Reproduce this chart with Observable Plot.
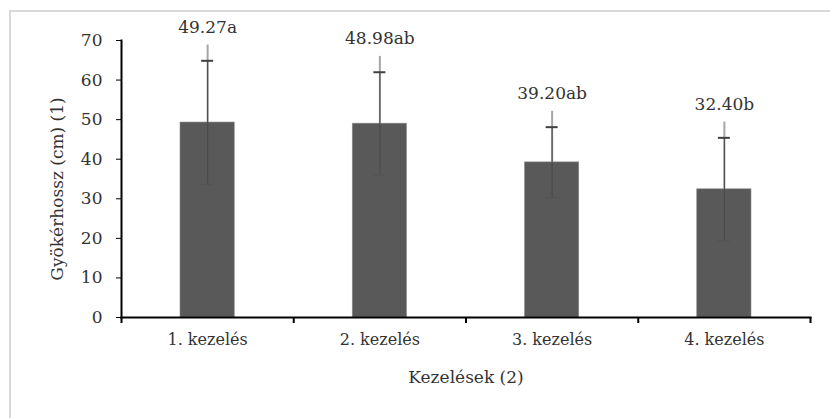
<!DOCTYPE html>
<html>
<head>
<meta charset="utf-8">
<script src="https://cdn.jsdelivr.net/npm/d3@7"></script>
<script src="https://cdn.jsdelivr.net/npm/@observablehq/plot@0.6"></script>
<style>
  html, body { margin: 0; padding: 0; background: #fff; }
  #wrap { position: relative; width: 830px; height: 418px; overflow: hidden; }
  #border { position: absolute; left: 9px; top: 10px; width: 900px; height: 500px;
            border-left: 2px solid #d9d9d9; border-top: 2px solid #d9d9d9; pointer-events: none; }
  svg { display: block; }
</style>
</head>
<body>
<div id="wrap"><div id="border"></div></div>
<script>
const categories = ["1. kezelés", "2. kezelés", "3. kezelés", "4. kezelés"];
const means = [49.27, 48.98, 39.20, 32.40];
const sds = [15.6, 13.0, 8.9, 13.0];
const letters = ["a", "ab", "ab", "b"];
const yTicks = [0, 10, 20, 30, 40, 50, 60, 70];
const yTitle = "Gyökérhossz (cm) (1)";
const xTitle = "Kezelések (2)";

const data = categories.map((c, i) => ({
  i, cat: c, mean: means[i], lo: means[i] - sds[i], hi: means[i] + sds[i],
  label: means[i].toFixed(2) + letters[i],
  labelY: means[i] + sds[i] + 8.5
}));

const font = "DejaVu Serif";
const fs = 16;
const txt = "#333";

const chart = Plot.plot({
  width: 830,
  height: 418,
  marginLeft: 121,
  marginRight: 20,
  marginTop: 40,
  marginBottom: 101,
  style: { fontFamily: font, fontSize: fs + "px", color: txt, background: "transparent" },
  x: { domain: [0, categories.length] },
  y: { domain: [0, 70] },
  marks: [
    Plot.rectY(data, { x1: d => d.i, x2: d => d.i + 1, y1: 0, y2: "mean", fill: "#595959", stroke: "#8c8c8c", strokeWidth: 0.6, insetLeft: 59, insetRight: 59 }),
    // leader lines from labels to bar tops
    Plot.ruleX(data, { x: d => d.i + 0.5, y1: "mean", y2: d => d.labelY - 4.5, stroke: "#a6a6a6", strokeWidth: 2 }),
    // error bars
    Plot.ruleX(data, { x: d => d.i + 0.5, y1: "lo", y2: "hi", stroke: "#4a4a4a", strokeWidth: 1.1 }),
    Plot.ruleY(data, { y: "hi", x1: d => d.i + 0.5, x2: d => d.i + 0.5, insetLeft: -6, insetRight: -6, stroke: "#404040", strokeWidth: 2 }),
    Plot.ruleY(data, { y: "lo", x1: d => d.i + 0.5, x2: d => d.i + 0.5, insetLeft: -6, insetRight: -6, stroke: "#505050", strokeWidth: 1.2, strokeOpacity: 0.5 }),
    // value labels
    Plot.text(data, { x: d => d.i + 0.5, y: "labelY", text: "label", fill: txt, fontSize: fs + 1, textAnchor: "middle", lineAnchor: "middle" }),
    // axes
    Plot.axisY({ ticks: yTicks, tickSize: 5, tickPadding: 14, tickFormat: d => String(d), label: null, fontSize: fs + 1, color: txt, stroke: "#000" }),
    Plot.axisX({ ticks: d3.range(0, categories.length + 1), tickSize: 6, tickFormat: () => "", label: null, strokeWidth: 2, color: "#000" }),
    Plot.axisX({ ticks: categories.map((c, i) => i + 0.5), tickSize: 0, tickPadding: 16, tickFormat: v => categories[Math.floor(v)], label: null, fontSize: fs, color: txt }),
    Plot.frame({ anchor: "left", stroke: "#000", strokeWidth: 2 }),
    Plot.frame({ anchor: "bottom", stroke: "#000", strokeWidth: 2 }),
    // titles
    Plot.text([xTitle], { frameAnchor: "bottom", text: d => d, dy: 65, fill: txt, fontSize: fs + 1, textAnchor: "middle" }),
    Plot.text([yTitle], { frameAnchor: "left", text: d => d, rotate: -90, dx: -64, dy: 10, fill: txt, fontSize: fs + 1, textAnchor: "middle" })
  ]
});
document.getElementById("wrap").prepend(chart);
</script>
</body>
</html>
